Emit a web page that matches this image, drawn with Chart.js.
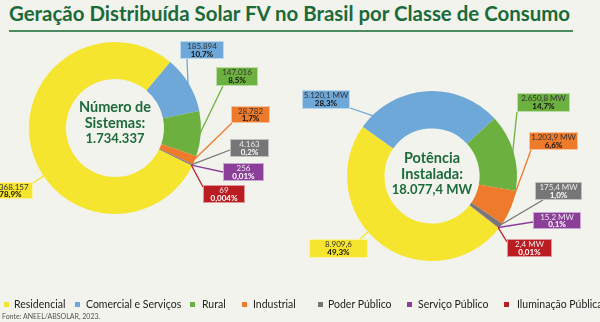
<!DOCTYPE html>
<html><head><meta charset="utf-8">
<script src="https://cdn.jsdelivr.net/npm/chart.js@4.4.0/dist/chart.umd.min.js"></script>
<style>
html,body{margin:0;padding:0;background:#f1f3ec;}
#wrap{position:relative;width:600px;height:322px;overflow:hidden;background:#f1f3ec;font-family:Lato,"Noto Sans",sans-serif;}
#title{position:absolute;left:9px;top:3px;font-weight:700;color:#1b6a3a;white-space:nowrap;line-height:1;}
#rule{position:absolute;left:9px;top:30px;width:564px;height:2px;background:#4d8a60;}
canvas{position:absolute;left:0;top:0;}
.lg{position:absolute;top:298px;font-size:10.5px;color:#222;white-space:nowrap;line-height:13px;}
.sq{position:absolute;top:302px;width:5px;height:5px;}
#src{position:absolute;left:2px;top:312px;font-size:7px;color:#555;white-space:nowrap;line-height:9px;}
</style></head>
<body><div id="wrap">
<div id="title"></div><div id="rule"></div>
<canvas id="c1" width="600" height="322"></canvas>
<canvas id="c2" width="600" height="322"></canvas>
<div id="legend"></div>
<div id="src">Fonte: ANEEL/ABSOLAR, 2023.</div>
</div>
<script>
const titleText = 'Geração Distribuída Solar FV no Brasil por Classe de Consumo';
const categories = ['Residencial','Comercial e Serviços','Rural','Industrial','Poder Público','Serviço Público','Iluminação Pública'];
const colors = ['#f6e52f','#6ea8d8','#6cb13f','#ee7a2c','#767676','#8c3f99','#b91d22'];
const sistemas = [1368157,185894,147016,28782,4163,256,69];
const sistemasText = ['1.368.157','185.894','147.016','28.782','4.163','256','69'];
const sistemasPct = ['78,9%','10,7%','8,5%','1,7%','0,2%','0,01%','0,004%'];
const potencia = [8909.6,5120.1,2650.8,1203.9,175.4,15.2,2.4];
const potenciaText = ['8.909,6','5.120,1 MW','2.650,8 MW','1.203,9 MW','175,4 MW','15.2 MW','2,4 MW'];
const potenciaPct = ['49,3%','28,3%','14,7%','6,6%','1,0%','0,1%','0,01%'];
const centerSistemas = ['Número de','Sistemas:','1.734.337'];
const centerPotencia = ['Potência','Instalada:','18.077,4 MW'];
const sourceText = 'Fonte: ANEEL/ABSOLAR, 2023.';

// layout (not data)
const lightText = [false,false,false,false,true,true,true];
const boxes1 = [
 {x:-12,y:182,w:45,h:17,ax:33,ay:183},
 {x:180,y:41,w:44,h:18,ax:187,ay:59},
 {x:216,y:67,w:42,h:19,ax:223,ay:86},
 {x:231,y:106,w:39,h:17,ax:232,ay:123},
 {x:230,y:139,w:39,h:18,ax:230,ay:150},
 {x:223,y:163,w:41,h:18,ax:223,ay:172},
 {x:203,y:185,w:42,h:18,ax:203,ay:187}
];
const boxes2 = [
 {x:309,y:239,w:59,h:19,ax:360,ay:239},
 {x:302,y:90,w:48,h:19,ax:350,ay:108},
 {x:517,y:93,w:53,h:19,ax:517,ay:112},
 {x:529,y:132,w:49,h:18,ax:531,ay:150},
 {x:535,y:182,w:47,h:18,ax:543,ay:200},
 {x:533,y:212,w:48,h:17,ax:533,ay:222},
 {x:507,y:239,w:45,h:18,ax:507,ay:242}
];
const legendSq = [4,75,190,242,318,407,504];
const legendTx = [14,86,202,253,328,418,517];

// title fit
(function(){
  const t = document.getElementById('title');
  t.textContent = titleText;
  const c = document.createElement('canvas').getContext('2d');
  c.font = '700 22px Lato';
  const w = c.measureText(titleText).width;
  t.style.fontSize = (22*563/w).toFixed(2)+'px';
  document.getElementById('src').textContent = sourceText;
  const lg = document.getElementById('legend');
  categories.forEach((c2,i)=>{
    const s=document.createElement('div'); s.className='sq'; s.style.left=legendSq[i]+'px'; s.style.background=colors[i]; lg.appendChild(s);
    const d=document.createElement('div'); d.className='lg'; d.style.left=legendTx[i]+'px'; d.textContent=c2; lg.appendChild(d);
  });
})();

function makePlugin(boxes, texts, pcts, center, offsets){
  return {
    id:'callouts',
    afterDraw(chart){
      const ctx = chart.ctx;
      const meta = chart.getDatasetMeta(0);
      ctx.save();
      // leader lines
      meta.data.forEach((arc,i)=>{
        const p = arc.getProps(['x','y','startAngle','endAngle','outerRadius'], true);
        const b = boxes[i];
        const span = p.endAngle - p.startAngle;
        let a;
        if (span > 1.0) {
          let d = Math.atan2(b.ay - p.y, b.ax - p.x);
          while (d < p.startAngle) d += Math.PI*2;
          while (d > p.startAngle + Math.PI*2) d -= Math.PI*2;
          const lo = p.startAngle + 0.1*span, hi = p.endAngle - 0.1*span;
          a = Math.min(Math.max(d, lo), hi);
        } else {
          a = (p.startAngle + p.endAngle)/2;
        }
        const r = p.outerRadius - 1;
        ctx.beginPath();
        ctx.moveTo(b.ax, b.ay);
        ctx.lineTo(p.x + r*Math.cos(a), p.y + r*Math.sin(a));
        ctx.strokeStyle = colors[i];
        ctx.lineWidth = 1.3;
        ctx.stroke();
      });
      // boxes
      meta.data.forEach((arc,i)=>{
        const b = boxes[i];
        ctx.fillStyle = colors[i];
        ctx.fillRect(b.x, b.y, b.w, b.h);
        ctx.strokeStyle = 'rgba(255,255,255,0.55)';
        ctx.lineWidth = 1;
        ctx.strokeRect(b.x+0.5, b.y+0.5, b.w-1, b.h-1);
        const cx = b.x + b.w/2;
        ctx.textAlign = 'center';
        ctx.textBaseline = 'middle';
        ctx.font = '400 8px Lato';
        ctx.fillStyle = lightText[i] ? '#ececec' : '#333';
        ctx.fillText(texts[i], cx, b.y + b.h*0.3);
        ctx.font = '700 8px Lato';
        ctx.fillStyle = lightText[i] ? '#fff' : '#111';
        ctx.fillText(pcts[i], cx, b.y + b.h*0.73);
      });
      // center text
      const p0 = meta.data[0].getProps(['x','y'], true);
      ctx.fillStyle = '#1d6b3c';
      ctx.textAlign = 'center';
      ctx.textBaseline = 'middle';
      const sizes = [14.5,14.5,13];
      center.forEach((t,k)=>{
        ctx.font = '700 ' + sizes[k] + 'px Lato';
        ctx.fillText(t, p0.x, p0.y + offsets[k]);
      });
      ctx.restore();
    }
  };
}

function makeChart(id, values, rotation, pad, cutout, plugin){
  return new Chart(document.getElementById(id), {
    type:'doughnut',
    data:{labels:categories, datasets:[{data:values, backgroundColor:colors, borderWidth:0}]},
    options:{responsive:false, animation:false, devicePixelRatio:1, rotation:rotation, cutout:cutout,
      layout:{padding:pad},
      plugins:{legend:{display:false}, tooltip:{enabled:false}}},
    plugins:[plugin]
  });
}

makeChart('c1', sistemas, 116, {left:29,top:42,right:399,bottom:108}, '57%',
  makePlugin(boxes1, sistemasText, sistemasPct, centerSistemas, [-21,-5,11]));
makeChart('c2', potencia, 128, {left:347,top:91,right:83,bottom:61}, '56%',
  makePlugin(boxes2, potenciaText, potenciaPct, centerPotencia, [-18,-2,14]));
</script>
</body></html>
